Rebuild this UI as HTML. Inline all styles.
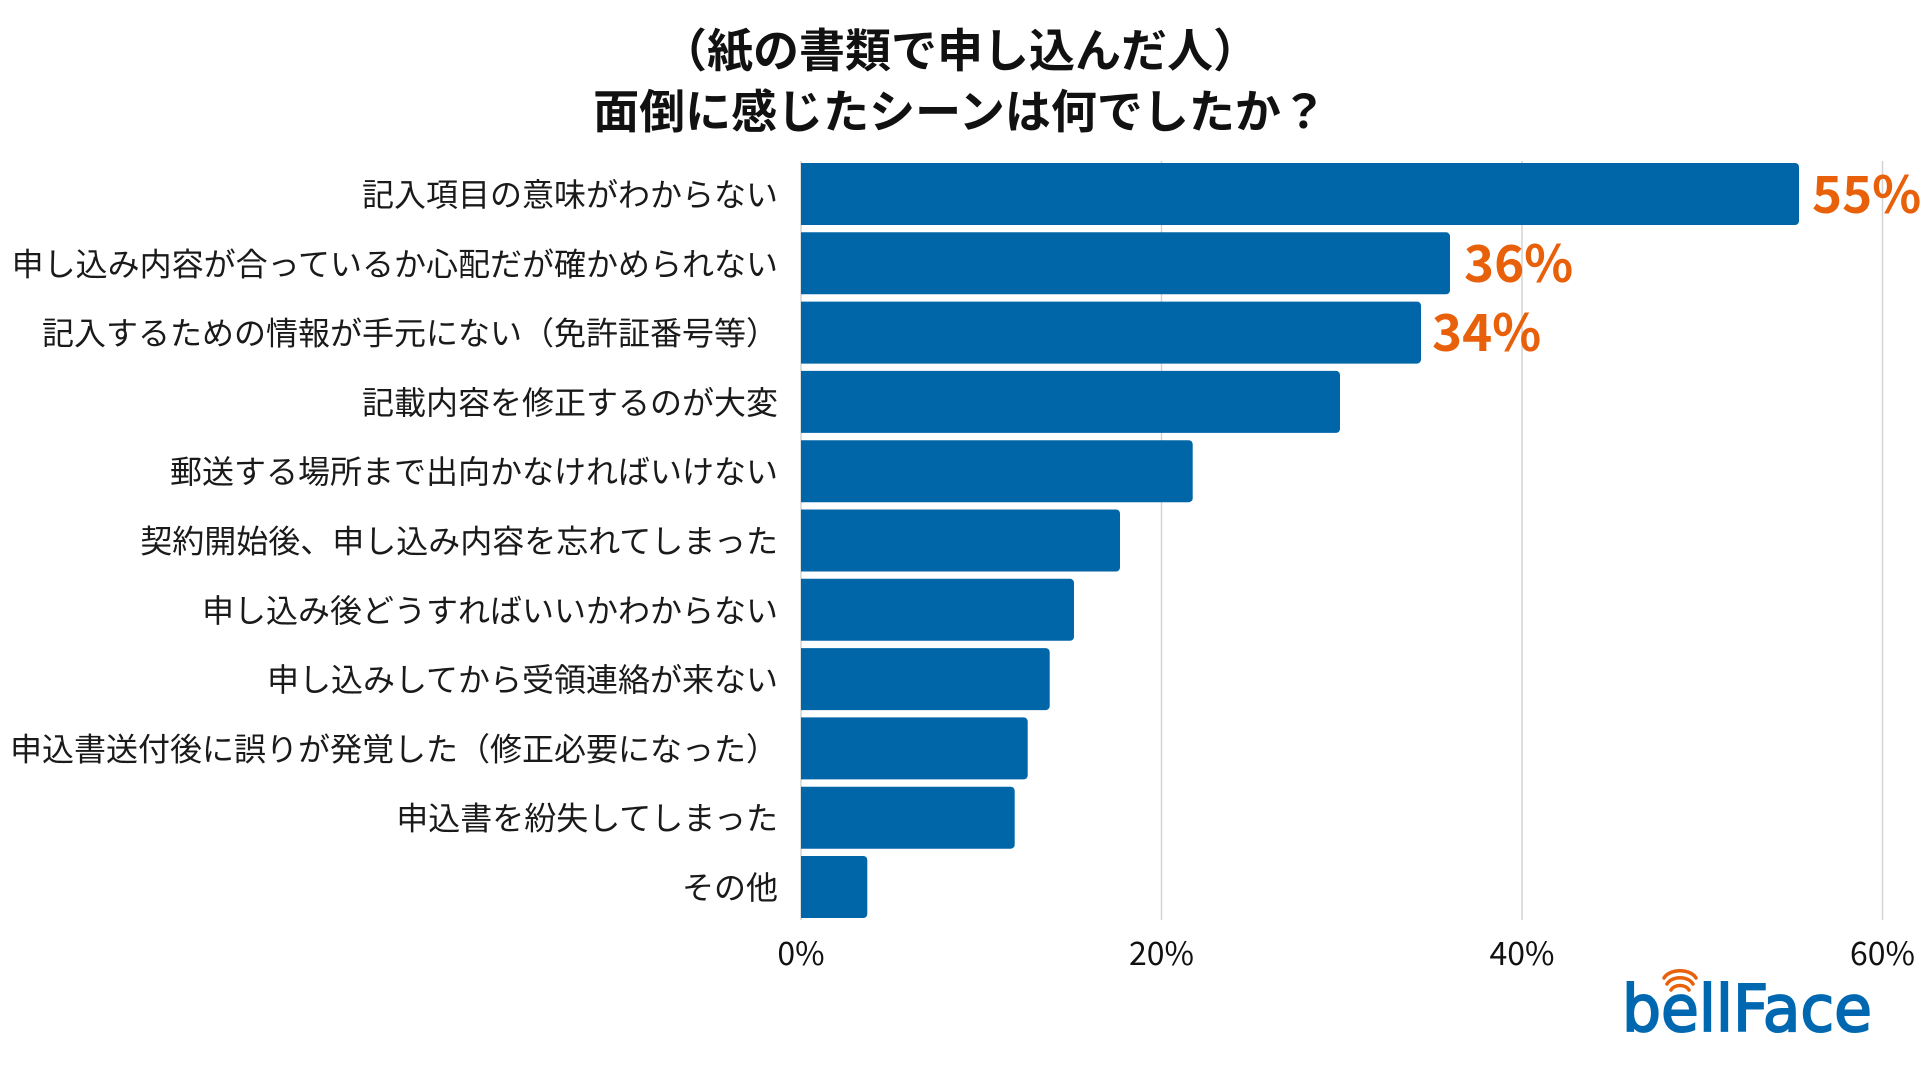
<!DOCTYPE html>
<html>
<head>
<meta charset="utf-8">
<style>
html,body{margin:0;padding:0;background:#fff;}
body{width:1920px;height:1080px;overflow:hidden;}
svg{display:block;}
.jp{font-family:"Noto Sans CJK JP","Liberation Sans",sans-serif;}
</style>
</head>
<body>
<svg width="1920" height="1080" viewBox="0 0 1920 1080" xmlns="http://www.w3.org/2000/svg">
  <rect width="1920" height="1080" fill="#ffffff"/>
  <!-- Title -->
  <g class="jp" font-weight="700" font-size="46" fill="#111" text-anchor="middle">
    <text x="960" y="67">（紙の書類で申し込んだ人）</text>
    <text x="960" y="128">面倒に感じたシーンは何でしたか？</text>
  </g>

  <!-- gridlines -->
  <g stroke="#d3d3d3" stroke-width="1.5">
    <line x1="801" y1="161" x2="801" y2="920"/>
    <line x1="1161.5" y1="161" x2="1161.5" y2="920"/>
    <line x1="1522" y1="161" x2="1522" y2="920"/>
    <line x1="1882.5" y1="161" x2="1882.5" y2="920"/>
  </g>

  <!-- bars -->
  <g fill="#0066a8">
    <path d="M801 163 H1795 a4 4 0 0 1 4 4 V221 a4 4 0 0 1 -4 4 H801 Z"/>
    <path d="M801 232.3 H1446 a4 4 0 0 1 4 4 V290.3 a4 4 0 0 1 -4 4 H801 Z"/>
    <path d="M801 301.6 H1417 a4 4 0 0 1 4 4 V359.6 a4 4 0 0 1 -4 4 H801 Z"/>
    <path d="M801 370.9 H1336 a4 4 0 0 1 4 4 V428.9 a4 4 0 0 1 -4 4 H801 Z"/>
    <path d="M801 440.2 H1188.7 a4 4 0 0 1 4 4 V498.2 a4 4 0 0 1 -4 4 H801 Z"/>
    <path d="M801 509.5 H1116 a4 4 0 0 1 4 4 V567.5 a4 4 0 0 1 -4 4 H801 Z"/>
    <path d="M801 578.8 H1070 a4 4 0 0 1 4 4 V636.8 a4 4 0 0 1 -4 4 H801 Z"/>
    <path d="M801 648.1 H1045.7 a4 4 0 0 1 4 4 V706.1 a4 4 0 0 1 -4 4 H801 Z"/>
    <path d="M801 717.4 H1023.7 a4 4 0 0 1 4 4 V775.4 a4 4 0 0 1 -4 4 H801 Z"/>
    <path d="M801 786.7 H1010.7 a4 4 0 0 1 4 4 V844.7 a4 4 0 0 1 -4 4 H801 Z"/>
    <path d="M801 856 H863.3 a4 4 0 0 1 4 4 V914 a4 4 0 0 1 -4 4 H801 Z"/>
  </g>

  <!-- category labels -->
  <g class="jp" font-size="32" fill="#1a1a1a" text-anchor="end">
    <text x="778" y="206">記入項目の意味がわからない</text>
    <text x="778" y="275.3">申し込み内容が合っているか心配だが確かめられない</text>
    <text x="778" y="344.6">記入するための情報が手元にない（免許証番号等）</text>
    <text x="778" y="413.9">記載内容を修正するのが大変</text>
    <text x="778" y="483.2">郵送する場所まで出向かなければいけない</text>
    <text x="778" y="552.5">契約開始後、申し込み内容を忘れてしまった</text>
    <text x="778" y="621.8">申し込み後どうすればいいかわからない</text>
    <text x="778" y="691.1">申し込みしてから受領連絡が来ない</text>
    <text x="778" y="760.4">申込書送付後に誤りが発覚した（修正必要になった）</text>
    <text x="778" y="829.7">申込書を紛失してしまった</text>
    <text x="778" y="899">その他</text>
  </g>

  <!-- value labels -->
  <g class="jp" font-size="51" font-weight="700" fill="#e8610a">
    <text x="1812" y="213">55%</text>
    <text x="1464" y="282">36%</text>
    <text x="1432" y="351">34%</text>
  </g>

  <!-- x tick labels -->
  <g class="jp" font-size="32" fill="#111" text-anchor="middle">
    <text x="801" y="965">0%</text>
    <text x="1161.5" y="965">20%</text>
    <text x="1522" y="965">40%</text>
    <text x="1882.5" y="965">60%</text>
  </g>

  <!-- logo -->
  <g>
    <text x="1622" y="1031" font-family="DejaVu Sans, Liberation Sans, sans-serif" font-size="64" fill="#0068b0" stroke="#0068b0" stroke-width="2" textLength="250" lengthAdjust="spacingAndGlyphs">bellFace</text>
    <g fill="none" stroke="#e8610a" stroke-width="3.5" stroke-linecap="round">
      <path d="M1671 990 a10 8 0 0 1 18 0"/>
      <path d="M1667 984 a14 10 0 0 1 26 0"/>
      <path d="M1664 978 a17 11 0 0 1 32 0"/>
    </g>
  </g>
</svg>
</body>
</html>
